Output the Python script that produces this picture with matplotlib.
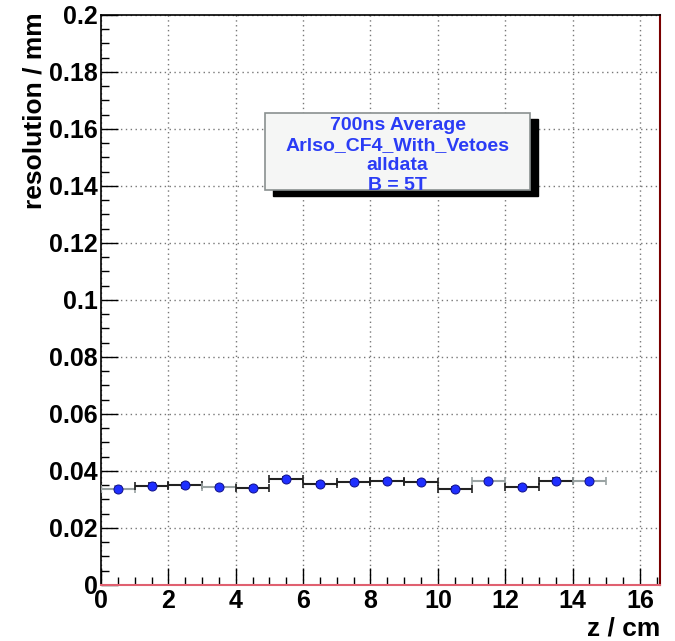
import numpy as np
import matplotlib
matplotlib.use("Agg")
import matplotlib.pyplot as plt
from matplotlib.ticker import MultipleLocator, FixedLocator
from matplotlib.patches import Rectangle

# data
z_centers = [0.5, 1.5, 2.5, 3.5, 4.5, 5.5, 6.5, 7.5, 8.5, 9.5, 10.5, 11.5, 12.5, 13.5, 14.5]
resolution = [0.0337, 0.0348, 0.0350, 0.0343, 0.0340, 0.0371, 0.0355, 0.0362, 0.0366,
              0.0361, 0.0337, 0.0366, 0.0344, 0.0366, 0.0366]
res_err = [0.0012, 0.0009, 0.0008, 0.0007, 0.0006, 0.0007, 0.0008, 0.0008, 0.0007,
           0.0008, 0.0008, 0.0007, 0.0007, 0.0008, 0.0007]
bin_half_width = [0.5] * 15
bar_colors = ['#9aa3a3', '#222222', '#222222', '#9aa3a3', '#222222', '#222222', '#222222',
              '#222222', '#222222', '#222222', '#222222', '#9aa3a3', '#222222', '#222222', '#9aa3a3']
legend_lines = ["700ns Average", "Arlso_CF4_With_Vetoes", "alldata", "B = 5T"]
x_ticks = [0, 2, 4, 6, 8, 10, 12, 14, 16]
y_ticks = [0, 0.02, 0.04, 0.06, 0.08, 0.1, 0.12, 0.14, 0.16, 0.18, 0.2]
y_tick_labels = ["0", "0.02", "0.04", "0.06", "0.08", "0.1", "0.12", "0.14", "0.16", "0.18", "0.2"]

plt.rcParams['font.family'] = ['Liberation Sans', 'DejaVu Sans']
fig = plt.figure(figsize=(6.75, 6.41), dpi=100)
ax = fig.add_axes([0.1496, 0.0874, 0.978 - 0.1496, 0.9766 - 0.0874])

ax.set_xlim(0, 16.6)
ax.set_ylim(0, 0.2)

for i in range(len(z_centers)):
    ax.errorbar([z_centers[i]], [resolution[i]], xerr=[bin_half_width[i]], yerr=[res_err[i]],
                fmt='none', ecolor=bar_colors[i], elinewidth=1.5, capsize=3, capthick=1.2, zorder=3)
ax.plot(z_centers, resolution, 'o', color='#1f2fff', markeredgecolor='#10108a',
        markersize=6.5, markeredgewidth=0.7, zorder=4)

ax.xaxis.set_major_locator(FixedLocator(x_ticks))
ax.xaxis.set_minor_locator(MultipleLocator(0.5))
ax.yaxis.set_major_locator(FixedLocator(y_ticks))
ax.yaxis.set_minor_locator(MultipleLocator(0.005))
ax.set_yticklabels(y_tick_labels)
ax.set_xticklabels([str(t) for t in x_ticks])

ax.tick_params(which='both', direction='in', top=False, right=False, colors='black')
ax.tick_params(which='major', length=12, width=1.0, labelsize=18)
ax.tick_params(axis='y', which='major', pad=2.5)
ax.tick_params(axis='x', which='major', pad=3)
ax.tick_params(which='minor', length=6, width=1.0)
for lab in ax.get_xticklabels() + ax.get_yticklabels():
    lab.set_fontweight('bold')

ax.grid(True, which='major', linestyle=(0, (1, 2.5)), color='#777777', linewidth=1.0)
ax.set_axisbelow(True)

for s in ['left', 'top']:
    ax.spines[s].set_color('black')
    ax.spines[s].set_linewidth(1.2)
ax.spines['right'].set_color('#7a0000')
ax.spines['right'].set_linewidth(1.5)
ax.spines['bottom'].set_color('#e06070')
ax.spines['bottom'].set_linewidth(1.5)

ax.set_ylabel("resolution / mm", fontsize=19, fontweight='bold')
ax.yaxis.set_label_coords(-0.098, 1.004)
ax.yaxis.label.set_ha('right')
ax.set_xlabel("z / cm", fontsize=19, fontweight='bold')
ax.xaxis.set_label_coords(1.0, -0.0895)
ax.xaxis.label.set_ha('right')
ax.xaxis.label.set_va('baseline')

# legend box with shadow
bx0, by0, bw, bh = 4.87, 0.1386, 7.87, 0.027
ax.add_patch(Rectangle((bx0 + 0.24, by0 - 0.0021), bw, bh, facecolor='black',
                       edgecolor='black', zorder=5))
ax.add_patch(Rectangle((bx0, by0), bw, bh, facecolor='#f5f6f5',
                       edgecolor='#8a9090', linewidth=1.2, zorder=6))
ax.text(bx0 + bw / 2, by0 + bh / 2 - 0.0014, "\n".join(legend_lines), ha='center', va='center',
        fontsize=14, fontweight='bold', color='#2a3cf5', linespacing=1.24, zorder=7)

fig.savefig("out.png", dpi=100, facecolor='white')
